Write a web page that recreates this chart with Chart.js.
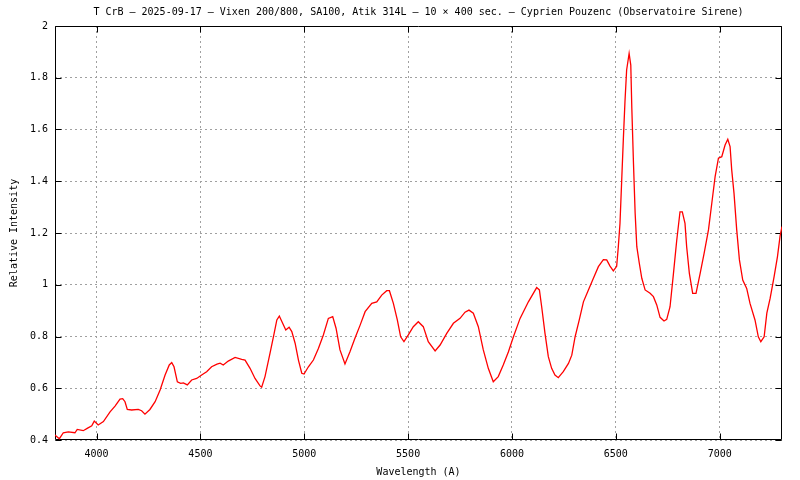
<!DOCTYPE html>
<html><head><meta charset="utf-8">
<script src="https://cdn.jsdelivr.net/npm/chart.js@4/dist/chart.umd.min.js"></script>
<style>html,body{margin:0;padding:0;background:#fff}canvas{display:block}</style>
</head><body>
<canvas id="c" width="800" height="480"></canvas>
<script>
const wavelengths = [3800,3805,3821,3840,3864,3896,3907,3936,3955,3977,3989,4008,4033,4065,4089,4113,4126,4137,4148,4169,4201,4217,4233,4257,4282,4306,4330,4350,4362,4373,4389,4405,4418,4437,4458,4482,4506,4530,4554,4580,4595,4610,4634,4667,4699,4715,4739,4763,4787,4795,4811,4835,4855,4868,4880,4896,4911,4927,4940,4956,4972,4988,4999,5020,5044,5068,5092,5116,5137,5153,5172,5196,5220,5244,5269,5293,5325,5349,5373,5397,5410,5429,5448,5464,5480,5501,5525,5549,5573,5597,5630,5654,5686,5718,5750,5774,5793,5814,5838,5862,5886,5910,5934,5958,5983,6007,6039,6079,6119,6132,6143,6159,6175,6191,6207,6223,6247,6272,6288,6304,6324,6344,6368,6392,6416,6440,6456,6472,6488,6504,6512,6520,6528,6536,6544,6552,6564,6572,6577,6585,6593,6601,6613,6625,6641,6665,6681,6697,6713,6732,6745,6761,6777,6793,6809,6820,6833,6841,6854,6870,6886,6906,6925,6946,6962,6978,6994,7010,7026,7039,7050,7058,7069,7082,7095,7111,7130,7146,7170,7186,7198,7214,7227,7243,7262,7278,7291,7300];
const intensity = [0.42,0.415,0.405,0.428,0.431,0.428,0.441,0.436,0.445,0.455,0.473,0.458,0.471,0.509,0.531,0.558,0.560,0.548,0.518,0.516,0.518,0.513,0.500,0.518,0.548,0.593,0.651,0.690,0.699,0.683,0.625,0.619,0.621,0.613,0.632,0.638,0.651,0.664,0.683,0.693,0.697,0.690,0.705,0.719,0.712,0.709,0.677,0.638,0.609,0.604,0.645,0.735,0.812,0.864,0.879,0.851,0.825,0.836,0.819,0.774,0.709,0.658,0.655,0.683,0.709,0.754,0.806,0.870,0.877,0.832,0.748,0.694,0.741,0.793,0.844,0.896,0.928,0.934,0.960,0.977,0.977,0.928,0.864,0.799,0.780,0.806,0.838,0.857,0.838,0.780,0.744,0.767,0.812,0.851,0.870,0.894,0.902,0.890,0.838,0.748,0.677,0.625,0.645,0.690,0.741,0.799,0.870,0.934,0.989,0.980,0.915,0.812,0.722,0.677,0.651,0.641,0.664,0.696,0.728,0.799,0.864,0.934,0.980,1.025,1.070,1.097,1.096,1.072,1.054,1.071,1.147,1.237,1.398,1.559,1.707,1.830,1.894,1.849,1.682,1.469,1.276,1.147,1.083,1.025,0.980,0.967,0.954,0.922,0.874,0.860,0.866,0.915,1.040,1.170,1.282,1.282,1.237,1.147,1.044,0.967,0.967,1.044,1.121,1.212,1.315,1.418,1.489,1.495,1.540,1.562,1.534,1.443,1.353,1.212,1.096,1.018,0.986,0.928,0.864,0.799,0.780,0.799,0.890,0.948,1.031,1.108,1.190,1.225];
const xTicks = [4000,4500,5000,5500,6000,6500,7000];
const yTicks = [0.4,0.6,0.8,1,1.2,1.4,1.6,1.8,2];
const titleText = "T CrB – 2025-09-17 – Vixen 200/800, SA100, Atik 314L – 10 × 400 sec. – Cyprien Pouzenc (Observatoire Sirene)";
const xTitle = "Wavelength (A)";
const yTitle = "Relative Intensity";

Chart.defaults.font.family = "'DejaVu Sans Mono', 'Liberation Mono', monospace";
Chart.defaults.font.size = 10;
Chart.defaults.color = '#000';

const bgPlugin = {
  id: 'bg',
  beforeDraw(chart) {
    const ctx = chart.ctx;
    ctx.save(); ctx.fillStyle = '#fff'; ctx.fillRect(0, 0, chart.width, chart.height); ctx.restore();
  }
};
const framePlugin = {
  id: 'frame',
  beforeDatasetsDraw(chart) {
    const {ctx, chartArea, scales} = chart;
    const l = Math.round(chartArea.left) + 0.5, r = Math.round(chartArea.right) - 0.5;
    const t = Math.round(chartArea.top) + 0.5, b = Math.round(chartArea.bottom) - 0.5;
    ctx.save();
    ctx.strokeStyle = '#000'; ctx.lineWidth = 1; ctx.setLineDash([]);
    ctx.beginPath();
    ctx.rect(l, t, r - l, b - t);
    const tl = 6;
    xTicks.forEach(v => {
      const p = Math.round(scales.x.getPixelForValue(v)) + 0.5;
      ctx.moveTo(p, b); ctx.lineTo(p, b - tl);
      ctx.moveTo(p, t); ctx.lineTo(p, t + tl);
    });
    yTicks.forEach(v => {
      const p = Math.round(scales.y.getPixelForValue(v)) + 0.5;
      ctx.moveTo(l, p); ctx.lineTo(l + tl, p);
      ctx.moveTo(r, p); ctx.lineTo(r - tl, p);
    });
    ctx.stroke();
    ctx.restore();
  }
};

new Chart(document.getElementById('c'), {
  type: 'line',
  data: {
    datasets: [{
      data: wavelengths.map((w, i) => ({x: w, y: intensity[i]})),
      borderColor: '#ff0000',
      borderWidth: 1.3,
      pointRadius: 0,
      tension: 0,
      fill: false
    }]
  },
  options: {
    responsive: false,
    animation: false,
    devicePixelRatio: 1,
    layout: {padding: {left: 0, right: 18, top: 0, bottom: 0}},
    plugins: {
      legend: {display: false},
      tooltip: {enabled: false},
      title: {
        display: true, text: titleText, color: '#000', fullSize: false,
        font: {size: 10, weight: 'normal'},
        padding: {top: 6, bottom: 8}
      }
    },
    scales: {
      x: {
        type: 'linear', min: 3800, max: 7300,
        afterBuildTicks: s => { s.ticks = xTicks.map(v => ({value: v})); },
        afterFit: s => { s.height = 40; },
        ticks: {padding: 8, maxRotation: 0, autoSkip: false, callback: v => String(v)},
        grid: {color: '#a0a0a0', lineWidth: 1, drawTicks: false, borderDash: [2, 3]},
        border: {display: false, dash: [2, 3]},
        title: {display: true, text: xTitle, font: {size: 10}, padding: {top: 0, bottom: 2}}
      },
      y: {
        type: 'linear', min: 0.4, max: 2,
        afterBuildTicks: s => { s.ticks = yTicks.map(v => ({value: v})); },
        afterFit: s => { s.width = 55; },
        ticks: {padding: 7, autoSkip: false, callback: v => String(v)},
        grid: {color: '#a0a0a0', lineWidth: 1, drawTicks: false, borderDash: [2, 3]},
        border: {display: false, dash: [2, 3]},
        title: {display: true, text: yTitle, font: {size: 10}, padding: {top: 8, bottom: 0}}
      }
    }
  },
  plugins: [bgPlugin, framePlugin]
});
</script>
</body></html>
